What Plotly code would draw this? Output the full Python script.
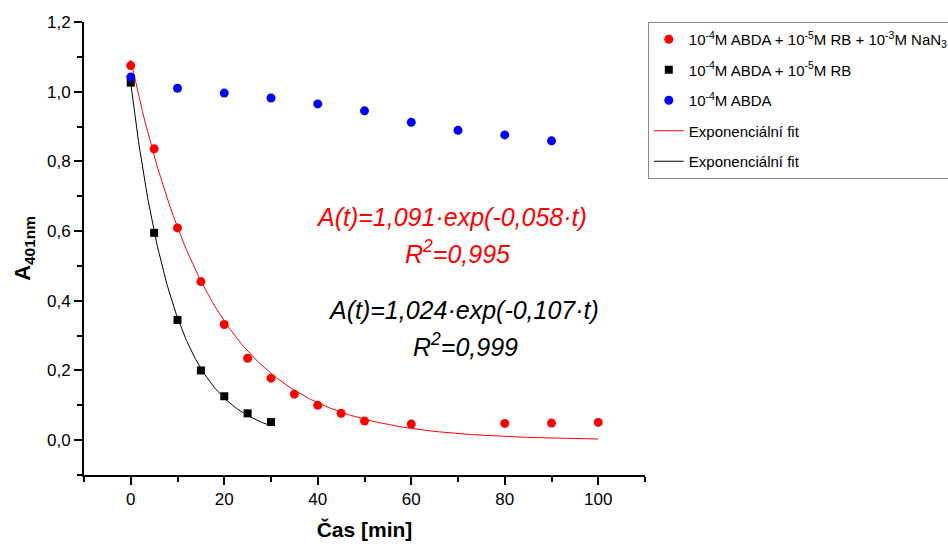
import numpy as np
import plotly.graph_objects as go

# Data
t_red = [0, 5, 10, 15, 20, 25, 30, 35, 40, 45, 50, 60, 80, 90, 100]
a_red = [1.075, 0.836, 0.609, 0.455, 0.332, 0.235, 0.178, 0.132, 0.100, 0.077, 0.055, 0.046, 0.048, 0.049, 0.051]

t_black = [0, 5, 10, 15, 20, 25, 30]
a_black = [1.026, 0.595, 0.345, 0.200, 0.126, 0.077, 0.052]

t_blue = [0, 10, 20, 30, 40, 50, 60, 70, 80, 90]
a_blue = [1.042, 1.010, 0.996, 0.982, 0.965, 0.945, 0.912, 0.889, 0.876, 0.859]

# Fit parameters (from the chart annotations)
fit_red = (1.091, 0.058, 0, 100)
fit_black = (1.024, 0.107, 0, 30)

names = ["10<sup>-4</sup>M ABDA + 10<sup>-5</sup>M RB + 10<sup>-3</sup>M NaN<sub>3</sub>",
         "10<sup>-4</sup>M ABDA + 10<sup>-5</sup>M RB",
         "10<sup>-4</sup>M ABDA",
         "Exponenciální fit",
         "Exponenciální fit"]

def fit_curve(p):
    a, k, t0, t1 = p
    tt = np.linspace(t0, t1, 200)
    return tt, a * np.exp(-k * tt)

FONT = "Liberation Sans, Arial, sans-serif"

fig = go.Figure()
tr, yr = fit_curve(fit_red)
tb, yb = fit_curve(fit_black)
fig.add_trace(go.Scatter(x=tr, y=yr, mode="lines", line=dict(color="red", width=1),
                         name=names[3], legendrank=4, legendgroup="d"))
fig.add_trace(go.Scatter(x=tb, y=yb, mode="lines", line=dict(color="black", width=1),
                         name=names[4], legendrank=5, legendgroup="e"))
fig.add_trace(go.Scatter(x=t_red, y=a_red, mode="markers",
                         marker=dict(color="red", size=9, symbol="circle"),
                         name=names[0], legendrank=1, legendgroup="a"))
fig.add_trace(go.Scatter(x=t_black, y=a_black, mode="markers",
                         marker=dict(color="black", size=8, symbol="square"),
                         name=names[1], legendrank=2, legendgroup="b"))
fig.add_trace(go.Scatter(x=t_blue, y=a_blue, mode="markers",
                         marker=dict(color="blue", size=9, symbol="circle"),
                         name=names[2], legendrank=3, legendgroup="c"))

xr = [-10, 110]
yrng = [-0.1, 1.2]

axis_common = dict(showgrid=False, zeroline=False, showline=True, linecolor="black",
                   linewidth=2, tickcolor="black", tickwidth=2,
                   tickfont=dict(family=FONT, size=17, color="black"))

fig.update_layout(
    width=948, height=547,
    margin=dict(l=84, r=303, t=22, b=72, autoexpand=False),
    paper_bgcolor="white", plot_bgcolor="white",
    separators=", ",
    font=dict(family=FONT, color="black"),
    xaxis=dict(range=xr, dtick=20, tick0=0, ticks="outside", ticklen=8,
               minor=dict(ticks="outside", ticklen=5, dtick=10, tick0=0, tickcolor="black", tickwidth=2),
               title=dict(text="<b>Čas [min]</b>", font=dict(family=FONT, size=21), standoff=14),
               **axis_common),
    yaxis=dict(range=yrng, dtick=0.2, tick0=0, ticks="outside", ticklen=8, tickformat=".1f",
               minor=dict(ticks="outside", ticklen=5, dtick=0.1, tick0=0, tickcolor="black", tickwidth=2),
               title=dict(text="<b>A<sub>401nm</sub></b>", font=dict(family=FONT, size=22), standoff=10),
               **axis_common),
    xaxis2=dict(range=xr, overlaying="x", side="top", dtick=20, tick0=0, ticks="inside", ticklen=8,
                showticklabels=False,
                minor=dict(ticks="inside", ticklen=5, dtick=10, tick0=0, tickcolor="black", tickwidth=2),
                **axis_common),
    yaxis2=dict(range=yrng, overlaying="y", side="right", dtick=0.2, tick0=0, ticks="inside", ticklen=8,
                showticklabels=False,
                minor=dict(ticks="inside", ticklen=5, dtick=0.1, tick0=0, tickcolor="black", tickwidth=2),
                **axis_common),
    legend=dict(x=1.005, y=1.0, xanchor="left", yanchor="top",
                bordercolor="#888888", borderwidth=1, bgcolor="white",
                font=dict(family=FONT, size=15, color="black"),
                traceorder="grouped", tracegroupgap=8, itemwidth=30),
    showlegend=True,
)

ann_font = dict(family=FONT, size=25)
fig.add_annotation(x=68.7, y=0.641, text="<i>A(t)=1,091·exp(-0,058·t)</i>", showarrow=False,
                   font=dict(color="red", **ann_font))
fig.add_annotation(x=69.8, y=0.540, text="<i>R<sup>2</sup>=0,995</i>", showarrow=False,
                   font=dict(color="red", **ann_font))
fig.add_annotation(x=71.2, y=0.374, text="<i>A(t)=1,024·exp(-0,107·t)</i>", showarrow=False,
                   font=dict(color="black", **ann_font))
fig.add_annotation(x=71.5, y=0.273, text="<i>R<sup>2</sup>=0,999</i>", showarrow=False,
                   font=dict(color="black", **ann_font))

fig.write_html("out.html")
